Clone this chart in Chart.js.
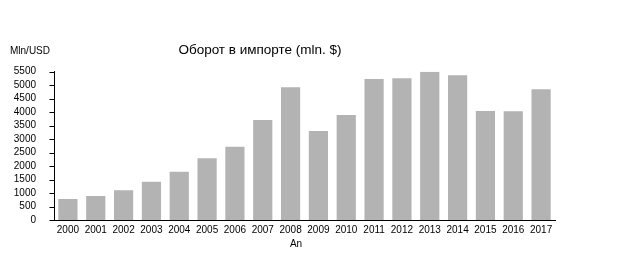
<!DOCTYPE html>
<html><head><meta charset="utf-8">
<script src="https://cdn.jsdelivr.net/npm/chart.js@4"></script>
<style>html,body{margin:0;padding:0;background:#fff}#wrap{width:630px;height:260px}</style>
</head><body><div id="wrap"><canvas id="c" width="630" height="260"></canvas></div>
<script>
const years = ['2000','2001','2002','2003','2004','2005','2006','2007','2008','2009','2010','2011','2012','2013','2014','2015','2016','2017'];
const importValues = [780, 890, 1100, 1420, 1790, 2290, 2720, 3710, 4920, 3300, 3890, 5230, 5260, 5500, 5370, 4040, 4030, 4850];
const yTickStep = 500;
const yMax = 5500;
const titleText = 'Оборот в импорте (mln. $)';
const yUnitText = 'Mln/USD';
const xTitleText = 'An';
const FONT = '"Liberation Sans", Arial, sans-serif';

const textPlugin = {
  id: 'texts',
  afterDraw(chart) {
    const ctx = chart.ctx;
    ctx.save();
    // y tick marks from the library's y scale
    const ys = chart.scales.y;
    const left = Math.round(chart.chartArea.left) + 0.5;
    ctx.strokeStyle = '#000';
    ctx.lineWidth = 1;
    ctx.beginPath();
    ys.ticks.forEach(t => {
      const py = Math.round(ys.getPixelForValue(t.value)) + 0.5;
      ctx.moveTo(left - 5, py);
      ctx.lineTo(left, py);
    });
    ctx.stroke();
    ctx.fillStyle = '#000';
    ctx.textBaseline = 'middle';
    ctx.font = '10px ' + FONT;
    ctx.textAlign = 'left';
    ctx.fillText(yUnitText, 10, 51);
    ctx.font = '13.5px ' + FONT;
    ctx.textAlign = 'center';
    ctx.fillText(titleText, 260, 50);
    ctx.font = '10px ' + FONT;
    ctx.fillText(xTitleText, 296, 244);
    ctx.restore();
  }
};

new Chart(document.getElementById('c'), {
  type: 'bar',
  data: { labels: years, datasets: [{ data: importValues, backgroundColor: '#b3b3b3', borderWidth: 0, categoryPercentage: 1, barPercentage: 0.69 }] },
  options: {
    responsive: false, animation: false,
    layout: { padding: { left: 0, right: 75, top: 71.7, bottom: 0 } },
    plugins: { legend: { display: false }, tooltip: { enabled: false }, title: { display: false } },
    scales: {
      x: {
        offset: true,
        grid: { display: false, drawTicks: false },
        border: { display: true, color: '#000', width: 1 },
        ticks: { color: '#000', font: { size: 10, family: FONT }, padding: 4, maxRotation: 0, autoSkip: false },
        afterFit(s) { s.height = 40; }
      },
      y: {
        min: 0, max: yMax,
        grid: { display: false, drawTicks: false },
        border: { display: true, color: '#000', width: 1 },
        ticks: { stepSize: yTickStep, autoSkip: false, color: '#000', font: { size: 10, family: FONT }, padding: 18, callback: v => String(v) },
        afterFit(s) { s.width = 54; }
      }
    }
  },
  plugins: [textPlugin]
});
</script></body></html>
